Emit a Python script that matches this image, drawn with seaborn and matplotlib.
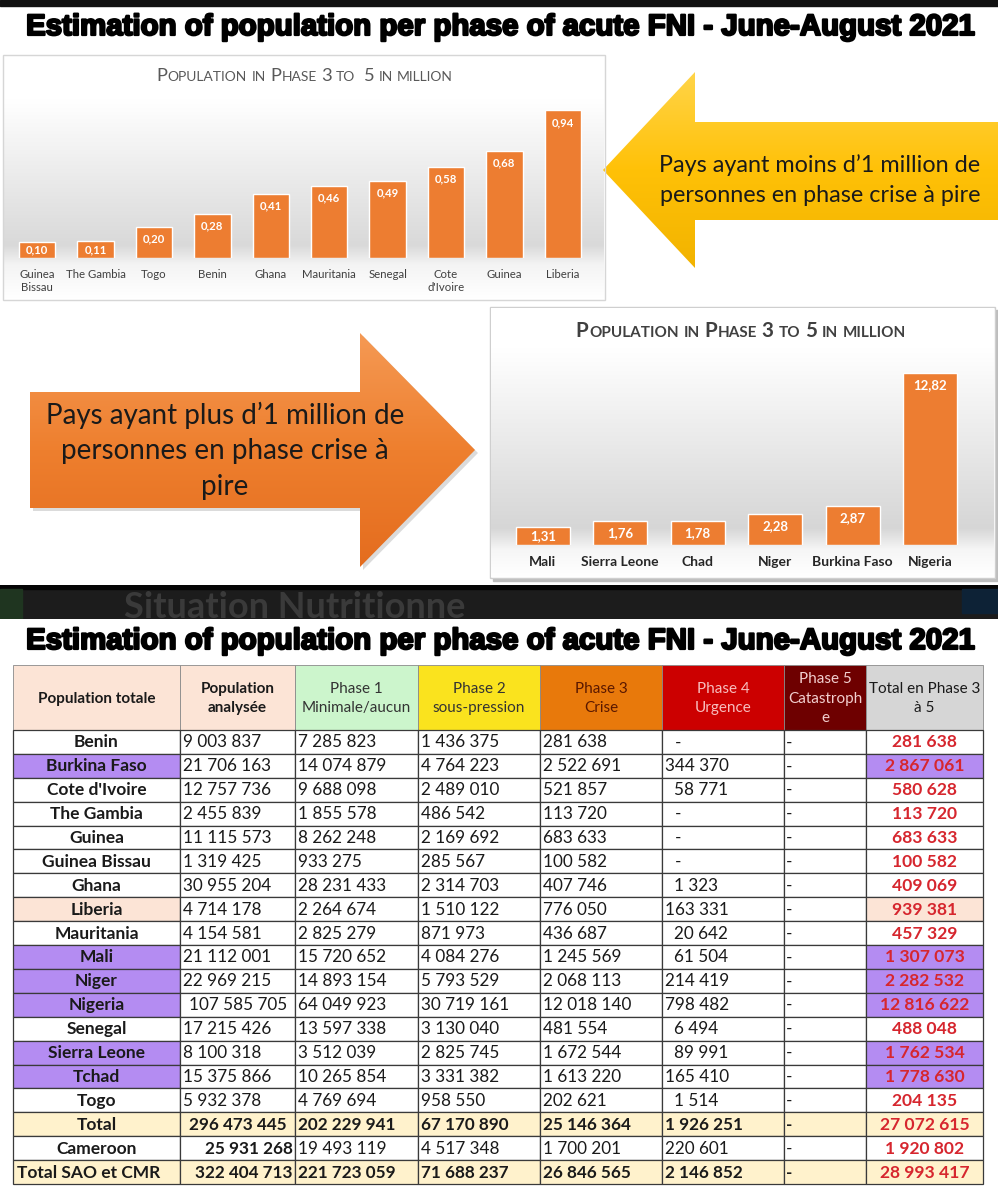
import numpy as np
import pandas as pd
import seaborn as sns
import matplotlib.pyplot as plt
from matplotlib.patches import Rectangle, Polygon
import matplotlib.patheffects as pe

# chart data (millions of people in phase 3 to 5)
low_countries = ["Guinea\nBissau", "The Gambia", "Togo", "Benin", "Ghana", "Mauritania",
                 "Senegal", "Cote\nd'Ivoire", "Guinea", "Liberia"]
low_values = [0.10, 0.11, 0.20, 0.28, 0.41, 0.46, 0.49, 0.58, 0.68, 0.94]
high_countries = ["Mali", "Sierra Leone", "Chad", "Niger", "Burkina Faso", "Nigeria"]
high_values = [1.31, 1.76, 1.78, 2.28, 2.87, 12.82]

# table data
countries = ["Benin", "Burkina Faso", "Cote d'Ivoire", "The Gambia", "Guinea", "Guinea Bissau",
             "Ghana", "Liberia", "Mauritania", "Mali", "Niger", "Nigeria", "Senegal",
             "Sierra Leone", "Tchad", "Togo", "Total", "Cameroon", "Total SAO et CMR"]
pop_analysed = [9003837, 21706163, 12757736, 2455839, 11115573, 1319425, 30955204, 4714178,
                4154581, 21112001, 22969215, 107585705, 17215426, 8100318, 15375866, 5932378,
                296473445, 25931268, 322404713]
phase1 = [7285823, 14074879, 9688098, 1855578, 8262248, 933275, 28231433, 2264674, 2825279,
          15720652, 14893154, 64049923, 13597338, 3512039, 10265854, 4769694, 202229941,
          19493119, 221723059]
phase2 = [1436375, 4764223, 2489010, 486542, 2169692, 285567, 2314703, 1510122, 871973,
          4084276, 5793529, 30719161, 3130040, 2825745, 3331382, 958550, 67170890, 4517348,
          71688237]
phase3 = [281638, 2522691, 521857, 113720, 683633, 100582, 407746, 776050, 436687, 1245569,
          2068113, 12018140, 481554, 1672544, 1613220, 202621, 25146364, 1700201, 26846565]
phase4 = [None, 344370, 58771, None, None, None, 1323, 163331, 20642, 61504, 214419, 798482,
          6494, 89991, 165410, 1514, 1926251, 220601, 2146852]
phase5 = [None] * 19
total_3_5 = [281638, 2867061, 580628, 113720, 683633, 100582, 409069, 939381, 457329, 1307073,
             2282532, 12816622, 488048, 1762534, 1778630, 204135, 27072615, 1920802, 28993417]

header_labels = ["Population totale", "Population\nanalysée", "Phase 1\nMinimale/aucun",
                 "Phase 2\nsous-pression", "Phase 3\nCrise", "Phase 4\nUrgence",
                 "Phase 5\nCatastroph\ne", "Total en Phase 3\nà 5"]
over_million = ["Burkina Faso", "Mali", "Niger", "Nigeria", "Sierra Leone", "Tchad"]
near_million = ["Liberia"]
total_rows = ["Total", "Total SAO et CMR"]

TITLE = "Estimation of population per phase of acute FNI - June-August 2021"
ORANGE = "#ED7D31"

sns.set_theme(style="white")
plt.rcParams["font.family"] = ["Lato", "DejaVu Sans"]

W, H = 998, 1200
fig = plt.figure(figsize=(W / 100, H / 100), dpi=100)
fig.patch.set_facecolor("white")


def box(x0, y0, x1, y1, z=1):
    return fig.add_axes([x0 / W, 1 - y1 / H, (x1 - x0) / W, (y1 - y0) / H], zorder=z)


base = box(0, 0, W, H, z=0)
base.axis("off")


def gradient_fill(x0, y0, x1, y1, stops, clip=None, z=1):
    ys = np.linspace(0, 1, 200)
    pos = [s[0] for s in stops]
    cols = np.array([s[1] for s in stops])
    img = np.stack([np.interp(ys, pos, cols[:, k]) for k in range(3)], axis=-1)
    img = np.repeat(img[:, None, :], 2, axis=1)
    im = base.imshow(img, extent=[x0, x1, y1, y0], aspect="auto", zorder=z,
                     interpolation="bilinear")
    if clip is not None:
        im.set_clip_path(clip)
    return im


def rgb(h):
    h = h.lstrip("#")
    return [int(h[i:i + 2], 16) / 255 for i in (0, 2, 4)]


# top black strip and titles
base.add_patch(Rectangle((0, 0), W, 6, color="#111111", zorder=2))
title_font = ["Liberation Sans Narrow", "Liberation Sans", "DejaVu Sans"]
for ty in (27, 641):
    base.text(499, ty, TITLE, ha="center", va="center", fontsize=21.2, fontweight="bold",
              family=title_font, color="black", zorder=5,
              path_effects=[pe.withStroke(linewidth=1.6, foreground="black")])

# chart panels
base.add_patch(Rectangle((3, 55), 602, 245, fill=False, edgecolor="#D6D6D6", lw=1, zorder=3))
gradient_fill(4, 56, 604, 299, [(0, rgb("#FFFFFF")), (0.18, rgb("#FFFFFF")),
                                (0.78, rgb("#D9D9D9")), (0.86, rgb("#F4F4F4")),
                                (1, rgb("#FFFFFF"))])
base.add_patch(Rectangle((493, 310), 505, 271, color="#BDBDBD", zorder=1))
base.add_patch(Rectangle((490, 307), 505, 271, facecolor="white", edgecolor="#CFCFCF",
                         lw=1, zorder=1.5))
gradient_fill(491, 308, 994, 577, [(0, rgb("#FFFFFF")), (0.15, rgb("#FFFFFF")),
                                   (0.82, rgb("#D6D6D6")), (0.90, rgb("#F6F6F6")),
                                   (1, rgb("#FFFFFF"))], z=2)


def small_caps(xc, y, text, big, small, color, weight):
    renderer = fig.canvas.get_renderer()
    runs, cur, cur_big, gap = [], "", None, 0.0
    space = small * 1.389 * 0.27
    for ch in text + "\0":
        if ch in (" ", "\0") or (cur and (not ch.islower()) != cur_big):
            if cur:
                runs.append([cur, cur_big, gap])
                cur, gap = "", 0.0
            if ch == " ":
                gap += space
                continue
            if ch == "\0":
                break
        cur += ch.upper()
        cur_big = not ch.islower()
    items, total = [], 0.0
    for s, is_big, g in runs:
        t = base.text(0, y, s, fontsize=big if is_big else small, color=color,
                      fontweight=weight, va="baseline", ha="left", zorder=6)
        w = t.get_window_extent(renderer).width
        items.append((t, g, w))
        total += g + w
    x = xc - total / 2
    for t, g, w in items:
        x += g
        t.set_x(x)
        x += w + 0.6


small_caps(302, 81, "Population in Phase 3 to  5 in million", 13.2, 10, "#595959", "normal")
small_caps(738, 337, "Population in Phase 3 to 5 in million", 14.8, 11, "#404040", "bold")


def bar_chart(ax, names, values, ymax, width, lab_size, tick_size, tick_weight, tick_color):
    df = pd.DataFrame({"country": names, "value": values})
    sns.barplot(data=df, x="country", y="value", color=ORANGE, saturation=1, width=width,
                ax=ax, zorder=3)
    ax.set_ylim(0, ymax)
    ax.set_xlim(-0.5, len(names) - 0.5)
    ax.set_facecolor("none")
    sns.despine(ax=ax, left=True, bottom=True)
    ax.set_yticks([])
    ax.set_xlabel("")
    ax.set_ylabel("")
    ax.tick_params(axis="x", length=0, pad=8, labelsize=tick_size, labelcolor=tick_color)
    for lab in ax.get_xticklabels():
        lab.set_fontweight(tick_weight)
        lab.set_va("top")
        lab.set_linespacing(1.25)
    px_per_unit = ax.bbox.height / ymax
    for i, v in enumerate(values):
        off = min(12, v * px_per_unit / 2)
        ax.annotate(f"{v:.2f}".replace(".", ","), (i, v), xytext=(0, -off * 0.72),
                    textcoords="offset points", ha="center", va="center", color="white",
                    fontsize=lab_size, fontweight="bold", zorder=5)


ax_low = box(8, 101, 592, 258, z=3)
bar_chart(ax_low, low_countries, low_values, 1.0, 0.62, 8.2, 8.2, "normal", "#404040")
ax_high = box(504, 357, 969, 545, z=3)
bar_chart(ax_high, high_countries, high_values, 14.0, 0.70, 9.5, 10, "bold", "#262626")

# arrows
yellow = Polygon([(603, 170), (695, 72), (695, 122), (998, 122), (998, 220), (695, 220),
                  (695, 268)], closed=True, transform=base.transData, facecolor="none",
                 edgecolor="none")
base.add_patch(yellow)
gradient_fill(600, 70, 998, 270, [(0, rgb("#FFD54A")), (0.5, rgb("#FFC107")),
                                  (1, rgb("#F2B300"))], clip=yellow, z=2)
base.text(820, 165, "Pays ayant moins d’1 million de", ha="center", va="center",
          fontsize=16.8, color="#1a1a1a", zorder=6)
base.text(820, 196, "personnes en phase crise à pire", ha="center", va="center",
          fontsize=16.8, color="#1a1a1a", zorder=6)

base.add_patch(Polygon([(33, 395), (363, 395), (363, 336), (478, 453), (363, 570), (363, 511),
                        (33, 511)], closed=True, facecolor="#9A9A9A", alpha=0.35,
                       edgecolor="none", zorder=1.8))
orange_arrow = Polygon([(30, 392), (360, 392), (360, 333), (475, 450), (360, 567), (360, 508),
                        (30, 508)], closed=True, transform=base.transData, facecolor="none",
                       edgecolor="none")
base.add_patch(orange_arrow)
gradient_fill(28, 330, 478, 570, [(0, rgb("#F59A55")), (0.5, rgb("#EE7F2E")),
                                  (1, rgb("#E46C1E"))], clip=orange_arrow, z=2)
for ly, line in zip([415, 451, 487], ["Pays ayant plus d’1 million de", "personnes en phase crise à",
                                      "pire"]):
    base.text(225, ly, line, ha="center", va="center", fontsize=20, color="#1a1a1a", zorder=6)

# dark banner between the two halves
band = box(0, 585, W, 619, z=2)
band.set_xlim(0, W)
band.set_ylim(34, 0)
band.axis("off")
band.add_patch(Rectangle((0, 0), W, 34, color="#1c1c1c"))
band.add_patch(Rectangle((0, 0), W, 4, color="#050505"))
band.add_patch(Rectangle((0, 4), 22, 30, color="#1f3520"))
band.add_patch(Rectangle((962, 4), 36, 24, color="#0d2236"))
band.text(124, 33, "Situation Nutritionne", fontsize=26, fontweight="bold", color="#3a3a3a",
          va="baseline", ha="left", clip_on=True)

# table
col_x = [13, 180, 295, 418, 540, 662, 784, 866, 983]
head_top, head_bot = 665, 730
row_y = np.linspace(730, 1184, len(countries) + 1)
head_fill = ["#FCE4D6", "#FCE4D6", "#CCF5CC", "#FAE31E", "#E8790B", "#CC0000", "#6E0000",
             "#D6D6D6"]
head_text = ["#1a1a1a", "#1a1a1a", "#333333", "#333333", "#5a1800", "#F7BDBD", "#F2CFCF",
             "#1a1a1a"]
for c in range(8):
    base.add_patch(Rectangle((col_x[c], head_top), col_x[c + 1] - col_x[c],
                             head_bot - head_top, facecolor=head_fill[c], edgecolor="#8a8a8a",
                             lw=0.6, zorder=2))
    base.text((col_x[c] + col_x[c + 1]) / 2, (head_top + head_bot) / 2 + 1, header_labels[c],
              ha="center", va="center", fontsize=11, color=head_text[c],
              fontweight="bold" if c < 2 else "normal", linespacing=1.5, zorder=6)

PURPLE, PEACH, CREAM, RED = "#B48CF2", "#FCE4D6", "#FFF2CC", "#D6262E"
FS = 12.3


def fmt(v):
    return f"{v:,}".replace(",", " ")


columns = [pop_analysed, phase1, phase2, phase3, phase4, phase5]
for r, name in enumerate(countries):
    y0, y1 = row_y[r], row_y[r + 1]
    yc = (y0 + y1) / 2 + 0.5
    fills = ["white"] * 8
    if name in over_million:
        fills[0] = fills[7] = PURPLE
    if name in near_million:
        fills[0] = fills[7] = PEACH
    if name in total_rows:
        fills = [CREAM] * 8
    for c in range(8):
        base.add_patch(Rectangle((col_x[c], y0), col_x[c + 1] - col_x[c], y1 - y0,
                                 facecolor=fills[c], edgecolor="#3a3a3a", lw=0.9, zorder=2))
    bold_row = name in total_rows
    if name == "Total SAO et CMR":
        base.text(col_x[0] + 4, yc, name, ha="left", va="center", fontsize=12.5,
                  fontweight="bold", color="#1a1a1a", zorder=6)
    else:
        base.text((col_x[0] + col_x[1]) / 2, yc, name, ha="center", va="center",
                  fontsize=12.5, fontweight="bold", color="#1a1a1a", zorder=6)
    for k, col in enumerate(columns):
        c = k + 1
        v = col[r]
        left = col_x[c]
        if v is None:
            txt, x, ha = "-", left + (13 if c == 5 else 2), "left"
        elif c == 1 and name in ("Cameroon", "Total SAO et CMR"):
            txt, x, ha = fmt(v), col_x[2] - 2, "right"
        else:
            txt, ha = fmt(v), "left"
            x = left + 3
            if c == 5 and v < 100000:
                x += 9
            if c == 1 and v >= 100000000:
                x += 6
        bold = bold_row or (c == 1 and name == "Cameroon")
        base.text(x, yc, txt, ha=ha, va="center", fontsize=FS, color="#1a1a1a",
                  fontweight="bold" if bold else "normal", zorder=6)
    base.text((col_x[7] + col_x[8]) / 2, yc, fmt(total_3_5[r]), ha="center", va="center",
              fontsize=FS + 0.3, fontweight="bold", color=RED, zorder=6)

base.set_xlim(0, W)
base.set_ylim(H, 0)

fig.savefig("out.png", dpi=100, facecolor="white")
